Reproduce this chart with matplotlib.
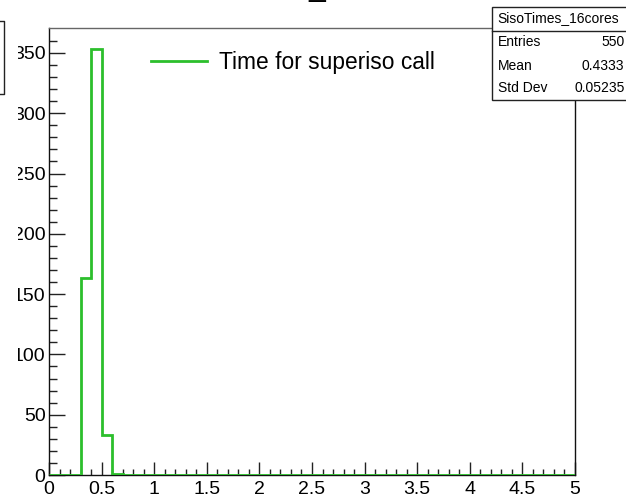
import numpy as np
import matplotlib
matplotlib.use("Agg")
import matplotlib.pyplot as plt
from matplotlib.lines import Line2D
from matplotlib.patches import Rectangle

# Histogram of call times (50 bins over 0..5 s)
bin_edges = np.linspace(0.0, 5.0, 51)
bin_counts = np.zeros(50)
filled_bins = [3, 4, 5, 6]
filled_counts = [163, 353, 33, 1]
bin_counts[filled_bins] = filled_counts

hist_name = "SisoTimes_16cores"
legend_label = "Time for superiso call"
stats_labels = ["Entries", "Mean", "Std Dev"]
stats_values = ["550", "0.4333", "0.05235"]
x_ticks = [0, 0.5, 1, 1.5, 2, 2.5, 3, 3.5, 4, 4.5, 5]
x_tick_labels = ["0", "0.5", "1", "1.5", "2", "2.5", "3", "3.5", "4", "4.5", "5"]
y_ticks = [0, 50, 100, 150, 200, 250, 300, 350]

W, H = 626, 500
plt.rcParams["font.family"] = ["Liberation Sans", "DejaVu Sans"]
fig = plt.figure(figsize=(W / 100, H / 100), dpi=100)
fig.patch.set_facecolor("white")


def fx(px):
    return px / W


def fy(py):
    return 1 - py / H


# plot frame in pixel coordinates
left, right, top, bottom = 49, 575, 28, 475
ax = fig.add_axes([fx(left), fy(bottom), fx(right) - fx(left), fy(top) - fy(bottom)])

green = "#2cbf2c"
ax.stairs(bin_counts, bin_edges, color=green, linewidth=2.0, label=legend_label,
          baseline=None, zorder=3)

ax.set_xlim(0, 5)
ax.set_ylim(0, 1.05 * max(filled_counts))

ax.set_xticks(x_ticks)
ax.set_xticklabels(x_tick_labels)
ax.set_xticks(np.arange(0, 5.0001, 0.1), minor=True)
ax.set_yticks(y_ticks)
ax.set_yticks(np.arange(0, 370, 10), minor=True)

ax.tick_params(axis="both", which="both", direction="in", top=False, right=False,
               colors="#222222", labelcolor="black", labelsize=14, width=1.0)
ax.tick_params(axis="x", which="major", length=9.5, pad=4.5)
ax.tick_params(axis="x", which="minor", length=4.5)
ax.tick_params(axis="y", which="major", length=11.5, pad=2.5)
ax.tick_params(axis="y", which="minor", length=6)

for side in ["left", "right", "bottom"]:
    ax.spines[side].set_color("#111111")
    ax.spines[side].set_linewidth(1.0)
ax.spines["top"].set_color("#666666")
ax.spines["top"].set_linewidth(1.0)

# the pad's left margin ends at x = 17 px; anything further left is blank
fig.patches.append(Rectangle((0, 0), fx(17.5), 1, transform=fig.transFigure,
                             facecolor="white", edgecolor="none", zorder=10))

# legend
leg = ax.legend(loc="center left", bbox_to_anchor=(fx(150.5), fy(62.5)),
                bbox_transform=fig.transFigure, frameon=False, fontsize=16.4,
                handlelength=2.5, handletextpad=0.5, borderpad=0, borderaxespad=0)

# title (only its lower part falls inside the canvas)
fig.text(fx(171), 1 + 4.0 / H, hist_name, fontsize=21.6, ha="left", va="baseline")

# stats box
box_l, box_r, box_t, box_b = 492, 628, 7, 100
fig.patches.append(Rectangle((fx(box_l), fy(box_b)), fx(box_r) - fx(box_l),
                             fy(box_t) - fy(box_b), transform=fig.transFigure,
                             facecolor="white", edgecolor="#222222", linewidth=1.0,
                             zorder=5))
fig.lines.append(Line2D([fx(box_l), fx(box_r)], [fy(30.5), fy(30.5)],
                        transform=fig.transFigure, color="#222222", linewidth=1.0,
                        zorder=6))
fig.text(fx((box_l + box_r) / 2 - 1.5), fy(18), hist_name, fontsize=10,
         ha="center", va="center", zorder=7)
row_y = [42.5, 65.5, 88.5]
for lab, val, yy in zip(stats_labels, stats_values, row_y):
    fig.text(fx(498), fy(yy), lab, fontsize=10, ha="left", va="center", zorder=7)
    fig.text(fx(624.5), fy(yy), val, fontsize=10, ha="right", va="center", zorder=7)

# partial box at the upper left corner of the canvas
fig.lines.append(Line2D([fx(-5), fx(4), fx(4), fx(-5)], [fy(21), fy(21), fy(94), fy(94)],
                        transform=fig.transFigure, color="#222222", linewidth=1.0,
                        zorder=11))

fig.savefig("out.png", dpi=100)
